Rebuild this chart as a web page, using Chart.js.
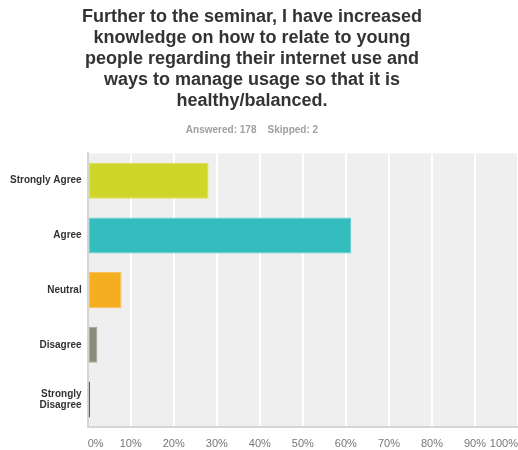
<!DOCTYPE html>
<html>
<head>
<meta charset="utf-8">
<script src="https://cdn.jsdelivr.net/npm/chart.js@4/dist/chart.umd.min.js"></script>
<style>
html,body{margin:0;padding:0;background:#fff;}
#wrap{position:relative;width:518px;height:450px;}
</style>
</head>
<body>
<div id="wrap"><canvas id="c" width="518" height="450"></canvas></div>
<script>
const titleLines = ["Further to the seminar, I have increased","knowledge on how to relate to young","people regarding their internet use and","ways to manage usage so that it is","healthy/balanced."];
const subtitleText = "Answered: 178    Skipped: 2";
const categories = ["Strongly Agree","Agree","Neutral","Disagree",["Strongly","Disagree"]];
const percentages = [28.09, 61.24, 7.87, 2.25, 0.56];
const barColors = ["#D0D52A","#33BDBF","#F6AE21","#8C8C7C","#3E6B7A"];
const borderColors = ["#DDE05A","#5FCDCF","#F8C25A","#A5A597","#3E6B7A"];
const xTicks = [0,10,20,30,40,50,60,70,80,90,100];

const plotBg = {
  id:'plotBg',
  beforeDraw(chart){
    const {ctx, chartArea:a} = chart;
    ctx.save();
    ctx.fillStyle = '#EFEFEF';
    ctx.fillRect(a.left, a.top, a.right-a.left, a.bottom-a.top);
    ctx.restore();
  }
};
const shiftTitle = {
  id:'shiftTitle',
  afterLayout(chart){
    chart.boxes.forEach(b=>{
      if (b.options && b.options.text !== undefined && b.position === 'top') {
        b.left -= 9; b.right -= 9;
      }
    });
  }
};

new Chart(document.getElementById('c'), {
  type:'bar',
  data:{
    labels: categories,
    datasets:[{
      data: percentages,
      backgroundColor: barColors,
      borderColor: borderColors,
      borderWidth: 1,
      borderSkipped: false,
      barPercentage: 0.66,
      categoryPercentage: 1.0
    }]
  },
  options:{
    indexAxis:'y',
    responsive:false,
    animation:false,
    layout:{padding:{left:4,right:0,top:7,bottom:-12}},
    plugins:{
      legend:{display:false},
      tooltip:{enabled:false},
      title:{
        display:true,
        text:titleLines,
        color:'#333333',
        font:{family:'"Liberation Sans", Arial, sans-serif', size:18, weight:'bold', lineHeight:1.16},
        padding:{top:0,bottom:13}
      },
      subtitle:{
        display:true,
        text:subtitleText,
        color:'#A0A0A0',
        font:{family:'"Liberation Sans", Arial, sans-serif', size:10, weight:'bold'},
        padding:{top:0,bottom:17}
      }
    },
    scales:{
      x:{
        min:0,max:100,
        afterBuildTicks(scale){ scale.ticks = xTicks.map(v=>({value:v})); },
        afterFit(scale){ scale.paddingLeft = 0; scale.paddingRight = 0; },
        grid:{color:'#FFFFFF', lineWidth:2, drawTicks:false},
        border:{display:true, color:'#D5D5D5', width:2},
        ticks:{
          align:'inner',
          padding:11,
          color:'#777777',
          font:{family:'"Liberation Sans", Arial, sans-serif', size:11},
          callback:(v)=>v+'%'
        }
      },
      y:{
        afterFit(scale){ scale.paddingTop = 0; scale.paddingBottom = 0; },
        grid:{display:false, drawTicks:false},
        border:{display:true, color:'#D5D5D5', width:2},
        ticks:{
          padding:6,
          color:'#333333',
          font:{family:'"Liberation Sans", Arial, sans-serif', size:10, weight:'bold', lineHeight:1.07}
        }
      }
    }
  },
  plugins:[plotBg, shiftTitle]
});
</script>
</body>
</html>
